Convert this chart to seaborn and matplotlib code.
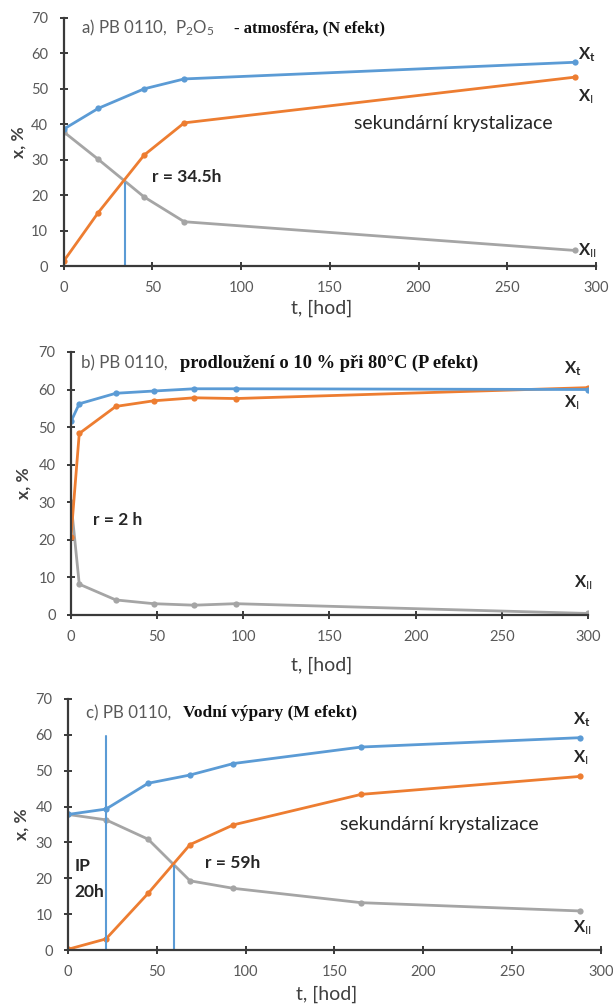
import numpy as np
import pandas as pd
import matplotlib
matplotlib.use('Agg')
import matplotlib.pyplot as plt
import seaborn as sns

# panel a) P2O5 atmosphere
t_a = [0, 19.6, 45.4, 68, 288]
xt_a = [38.6, 44.5, 50.0, 52.8, 57.5]
xi_a = [1.3, 15.1, 31.3, 40.4, 53.3]
xii_a = [37.9, 30.1, 19.5, 12.5, 4.4]
r_a = 34.5
cross_a = 23.5

# panel b) elongation 10 % at 80 C
t_b = [0, 4.8, 26, 48, 71.5, 95.5, 300]
xt_b = [51.5, 56.2, 59.0, 59.6, 60.2, 60.2, 60.0]
xi_b = [20.8, 48.3, 55.5, 57.0, 57.8, 57.6, 60.5]
xii_b = [30.0, 8.2, 4.0, 3.0, 2.6, 3.0, 0.4]

# panel c) water vapour
t_c = [0, 21.4, 45.1, 68.7, 93.1, 165, 288]
xt_c = [37.8, 39.3, 46.5, 48.8, 52.0, 56.6, 59.2]
xi_c = [0.2, 3.1, 15.8, 29.4, 34.9, 43.4, 48.4]
xii_c = [37.8, 36.3, 30.9, 19.3, 17.2, 13.2, 10.9]
ip_c = 21.4
ip_top = 59.6
r_c = 59.9
cross_c = 23.4

BLUE = '#5B9BD5'
ORANGE = '#ED7D31'
GRAY = '#A5A5A5'

sns.set_style('ticks')
plt.rcParams['font.family'] = ['Lato', 'DejaVu Sans']
plt.rcParams['mathtext.fontset'] = 'custom'
plt.rcParams['mathtext.rm'] = 'Lato'
plt.rcParams['mathtext.bf'] = 'Lato:bold'
plt.rcParams['mathtext.it'] = 'Lato:italic'

fig = plt.figure(figsize=(6.13, 10.05), dpi=100)
ax_a = fig.add_axes([0.1036, 0.7353, 0.8687, 0.2468])
ax_b = fig.add_axes([0.1158, 0.3881, 0.8434, 0.2617])
ax_c = fig.add_axes([0.1109, 0.0547, 0.8695, 0.2498])


def draw_series(ax, t, xt, xi, xii):
    for vals, col in [(xii, GRAY), (xi, ORANGE), (xt, BLUE)]:
        df = pd.DataFrame({'t': t, 'x': vals})
        sns.lineplot(data=df, x='t', y='x', ax=ax, color=col, linewidth=2.0,
                     marker='o', markersize=4.5, markeredgewidth=0, sort=False)


def style_axis(ax, ylab_x, xlab_y):
    ax.set_xlim(0, 300)
    ax.set_ylim(0, 70)
    ax.set_xticks(np.arange(0, 301, 50))
    ax.set_yticks(np.arange(0, 71, 10))
    for side in ['top', 'right']:
        ax.spines[side].set_visible(False)
    for side in ['left', 'bottom']:
        ax.spines[side].set_color('#3a3a3a')
        ax.spines[side].set_linewidth(1.6)
    ax.tick_params(axis='both', direction='inout', length=6, width=1.4,
                   color='#3a3a3a', labelcolor='#595959', labelsize=10.5)
    ax.tick_params(axis='x', pad=8)
    ax.tick_params(axis='y', pad=8)
    ax.set_xlabel('t, [hod]', fontsize=14, color='#404040')
    ax.set_ylabel('x, %', fontsize=12.5, fontweight='bold', color='#404040')
    ax.xaxis.set_label_coords(0.485, xlab_y)
    ax.yaxis.set_label_coords(ylab_x, 0.5)


def series_labels(ax, pos_t, pos_i, pos_ii):
    kw = dict(fontsize=12, color='#262626', va='center', ha='left', clip_on=False)
    ax.text(pos_t[0], pos_t[1], r'$\mathbf{X}_{\mathbf{t}}$', **kw)
    ax.text(pos_i[0], pos_i[1], r'$\mathbf{X}_{\mathrm{I}}$', **kw)
    ax.text(pos_ii[0], pos_ii[1], r'$\mathbf{X}_{\mathrm{II}}$', **kw)


def serif(size):
    return dict(family='Liberation Serif', fontweight='bold', fontsize=size,
                color='#111111', va='center')


bold_sans = dict(fontweight='bold', fontsize=12.5, color='#262626', va='center')
gray_head = dict(fontsize=12.2, color='#595959', va='center')
note = dict(fontsize=14, color='#262626', va='center')

# a)
draw_series(ax_a, t_a, xt_a, xi_a, xii_a)
ax_a.plot([r_a, r_a], [0, cross_a], color=BLUE, lw=1.5)
style_axis(ax_a, -0.07, -0.137)
ax_a.text(9.9, 67.2, r'a) PB 0110,  P$_2$O$_5$', **gray_head)
ax_a.text(96.3, 67.2, '- atmosféra, (N efekt)', **serif(12))
ax_a.text(50, 25.2, 'r = 34.5h', **bold_sans)
ax_a.text(163.7, 40.3, 'sekundární krystalizace', **note)
series_labels(ax_a, (290, 59.6), (290, 47.8), (290, 4.4))

# b)
draw_series(ax_b, t_b, xt_b, xi_b, xii_b)
style_axis(ax_b, -0.077, -0.16)
ax_b.text(5.7, 66.9, 'b) PB 0110,', **gray_head)
ax_b.text(63.5, 66.9, 'prodloužení o 10 % při 80°C (P efekt)', **serif(13.3))
ax_b.text(13, 25.4, 'r = 2 h', **bold_sans)
series_labels(ax_b, (286, 65.6), (286, 56.5), (292, 8.6))

# c)
draw_series(ax_c, t_c, xt_c, xi_c, xii_c)
ax_c.plot([ip_c, ip_c], [0, ip_top], color=BLUE, lw=1.5)
ax_c.plot([r_c, r_c], [0, cross_c], color=BLUE, lw=1.5)
style_axis(ax_c, -0.073, -0.14)
ax_c.text(9.9, 66, 'c) PB 0110,', **gray_head)
ax_c.text(64.5, 66, 'Vodní výpary (M efekt)', **serif(12.5))
ax_c.text(3.7, 23.4, 'IP', **bold_sans)
ax_c.text(3.7, 16.2, '20h', **bold_sans)
ax_c.text(77, 24.4, 'r = 59h', **bold_sans)
ax_c.text(153, 35, 'sekundární krystalizace', **note)
series_labels(ax_c, (284, 64.2), (284, 53.6), (284, 6.3))

fig.savefig('out.png', dpi=100)
